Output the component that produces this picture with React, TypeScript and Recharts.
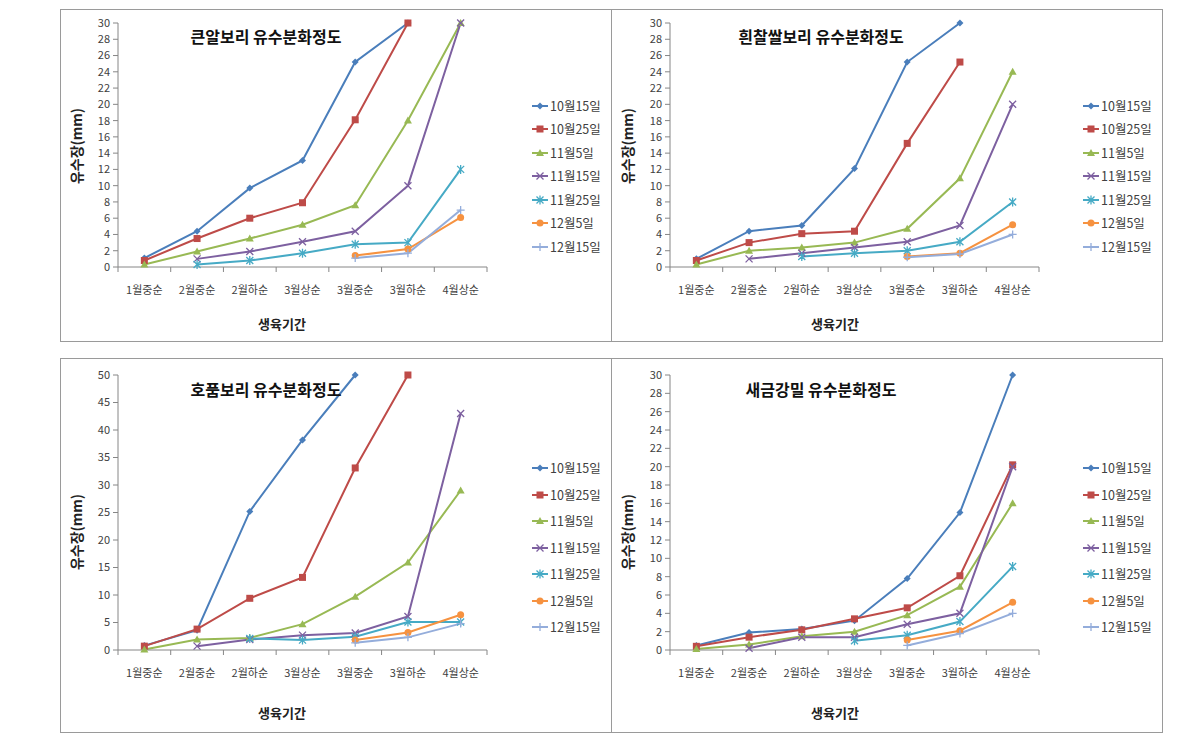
import React from "react";
import { LineChart, Line, XAxis, YAxis, Legend } from "recharts";

const CATS = ["1월중순", "2월중순", "2월하순", "3월상순", "3월중순", "3월하순", "4월상순"];
const SERIES = ["10월15일", "10월25일", "11월5일", "11월15일", "11월25일", "12월5일", "12월15일"];

type V = number | null;

// 큰알보리
const KEUNAL_1015: V[] = [1.1, 4.4, 9.7, 13.1, 25.2, 30, null];
const KEUNAL_1025: V[] = [0.8, 3.5, 6.0, 7.9, 18.1, 30, null];
const KEUNAL_1105: V[] = [0.3, 1.9, 3.5, 5.2, 7.6, 18, 30];
const KEUNAL_1115: V[] = [null, 1.0, 1.9, 3.1, 4.4, 10, 30];
const KEUNAL_1125: V[] = [null, 0.3, 0.8, 1.7, 2.8, 3.0, 12];
const KEUNAL_1205: V[] = [null, null, null, null, 1.4, 2.2, 6.1];
const KEUNAL_1215: V[] = [null, null, null, null, 1.1, 1.7, 7.0];

// 흰찰쌀보리
const HUIN_1015: V[] = [1.0, 4.4, 5.1, 12.1, 25.2, 30, null];
const HUIN_1025: V[] = [0.8, 3.0, 4.1, 4.4, 15.2, 25.2, null];
const HUIN_1105: V[] = [0.3, 2.0, 2.4, 3.0, 4.7, 10.9, 24];
const HUIN_1115: V[] = [null, 1.0, 1.7, 2.4, 3.1, 5.1, 20];
const HUIN_1125: V[] = [null, null, 1.3, 1.7, 2.0, 3.1, 8.0];
const HUIN_1205: V[] = [null, null, null, null, 1.3, 1.7, 5.2];
const HUIN_1215: V[] = [null, null, null, null, 1.2, 1.6, 4.0];

// 호품보리
const HOPUM_1015: V[] = [0.8, 3.6, 25.2, 38.2, 50, null, null];
const HOPUM_1025: V[] = [0.7, 3.8, 9.4, 13.2, 33.1, 50, null];
const HOPUM_1105: V[] = [0.1, 1.9, 2.2, 4.7, 9.7, 15.9, 29];
const HOPUM_1115: V[] = [null, 0.7, 1.9, 2.7, 3.1, 6.1, 43];
const HOPUM_1125: V[] = [null, null, 2.1, 1.8, 2.4, 5.1, 5.1];
const HOPUM_1205: V[] = [null, null, null, null, 1.8, 3.2, 6.4];
const HOPUM_1215: V[] = [null, null, null, null, 1.3, 2.3, 4.8];

// 새금강밀
const SAEGEUM_1015: V[] = [0.5, 1.9, 2.3, 3.2, 7.8, 15, 30];
const SAEGEUM_1025: V[] = [0.4, 1.4, 2.2, 3.4, 4.6, 8.1, 20.2];
const SAEGEUM_1105: V[] = [0.1, 0.6, 1.5, 2.0, 3.8, 6.9, 16];
const SAEGEUM_1115: V[] = [null, 0.2, 1.4, 1.4, 2.8, 4.0, 20];
const SAEGEUM_1125: V[] = [null, null, null, 1.0, 1.6, 3.1, 9.1];
const SAEGEUM_1205: V[] = [null, null, null, null, 1.1, 2.1, 5.2];
const SAEGEUM_1215: V[] = [null, null, null, null, 0.5, 1.8, 4.0];

const TICKS_30 = [0, 2, 4, 6, 8, 10, 12, 14, 16, 18, 20, 22, 24, 26, 28, 30];
const TICKS_50 = [0, 5, 10, 15, 20, 25, 30, 35, 40, 45, 50];

// Excel 2007 style palette + marker per series
const LOOK = [
  { color: "#4A7EBB", marker: "diamond" },
  { color: "#BE4B48", marker: "square" },
  { color: "#98B954", marker: "triangle" },
  { color: "#7D60A0", marker: "x" },
  { color: "#46AAC5", marker: "star" },
  { color: "#F69240", marker: "circle" },
  { color: "#94ADDB", marker: "plus" },
];

const AXIS = "#868686";
const TEXT = "#404040";
const PLOT_W = 369;
const STEP = PLOT_W / CATS.length;

function Marker({ shape, color, cx, cy }: { shape: string; color: string; cx: number; cy: number }) {
  switch (shape) {
    case "diamond":
      return <path d={`M${cx},${cy - 3.5}L${cx + 3.5},${cy}L${cx},${cy + 3.5}L${cx - 3.5},${cy}Z`} fill={color} />;
    case "square":
      return <rect x={cx - 3.5} y={cy - 3.5} width={7} height={7} fill={color} />;
    case "triangle":
      return <path d={`M${cx},${cy - 4}L${cx + 4},${cy + 3}L${cx - 4},${cy + 3}Z`} fill={color} />;
    case "x":
      return (
        <path d={`M${cx - 3.5},${cy - 3.5}L${cx + 3.5},${cy + 3.5}M${cx + 3.5},${cy - 3.5}L${cx - 3.5},${cy + 3.5}`} stroke={color} strokeWidth={1.3} />
      );
    case "star":
      return (
        <path
          d={`M${cx - 3.5},${cy - 3.5}L${cx + 3.5},${cy + 3.5}M${cx + 3.5},${cy - 3.5}L${cx - 3.5},${cy + 3.5}M${cx},${cy - 4.5}L${cx},${cy + 4.5}`}
          stroke={color}
          strokeWidth={1.3}
        />
      );
    case "circle":
      return <circle cx={cx} cy={cy} r={3.5} fill={color} />;
    default:
      return <path d={`M${cx - 4},${cy}L${cx + 4},${cy}M${cx},${cy - 4}L${cx},${cy + 4}`} stroke={color} strokeWidth={1.3} />;
  }
}

const makeDot = (shape: string, color: string) => (props: any) => {
  const { cx, cy, value, index } = props;
  if (value == null || cy == null || isNaN(cy)) return <g key={index} />;
  return (
    <g key={index}>
      <Marker shape={shape} color={color} cx={cx} cy={cy} />
    </g>
  );
};

function XTick({ x, y, payload }: any) {
  const i = payload.value as number;
  return (
    <g>
      <line x1={x - STEP / 2} x2={x - STEP / 2} y1={y} y2={y + 5} stroke={AXIS} />
      {i === CATS.length - 1 && <line x1={x + STEP / 2} x2={x + STEP / 2} y1={y} y2={y + 5} stroke={AXIS} />}
      <text x={x} y={y + 22} textAnchor="middle" dominantBaseline="central" fontSize={11} fill={TEXT}>
        {CATS[i]}
      </text>
    </g>
  );
}

function LegendBox({ payload, gap }: any) {
  const items = [...(payload || [])].sort((a: any, b: any) => SERIES.indexOf(a.value) - SERIES.indexOf(b.value));
  return (
    <div>
      {items.map((p: any) => {
        const k = SERIES.indexOf(p.value);
        const look = LOOK[k];
        return (
          <div key={p.value} style={{ height: gap, display: "flex", alignItems: "center" }}>
            <svg width={17} height={10} style={{ display: "block" }}>
              <line x1={0} x2={16} y1={5} y2={5} stroke={look.color} strokeWidth={2} />
              <Marker shape={look.marker} color={look.color} cx={8} cy={5} />
            </svg>
            <span style={{ fontSize: 12.5, color: TEXT, marginLeft: 1, lineHeight: 1 }}>{p.value}</span>
          </div>
        );
      })}
    </div>
  );
}

type PanelProps = {
  title: string;
  series: V[][];
  yMax: number;
  ticks: number[];
  left: number;
  top: number;
  width: number;
  height: number;
  plotLeft: number;
  plotTop: number;
  plotBottom: number;
  titleX: number;
  titleY: number;
  yLabelX: number;
  yLabelY: number;
  xLabelX: number;
  xLabelY: number;
  legendTop: number;
  legendGap: number;
};

function Panel(p: PanelProps) {
  const rows = CATS.map((c, i) => {
    const row: Record<string, any> = { idx: i, cat: c };
    SERIES.forEach((s, k) => (row[s] = p.series[k][i]));
    return row;
  });
  const yW = 30;
  const xH = 20;
  return (
    <div style={{ position: "absolute", left: p.left, top: p.top, width: p.width, height: p.height }}>
      <LineChart
        width={p.width}
        height={p.height}
        data={rows}
        margin={{
          top: p.plotTop,
          left: p.plotLeft - yW,
          right: p.width - p.plotLeft - PLOT_W,
          bottom: p.height - p.plotBottom - xH,
        }}
      >
        <XAxis
          dataKey="idx"
          type="number"
          domain={[-0.5, CATS.length - 0.5]}
          ticks={CATS.map((_, i) => i)}
          interval={0}
          height={xH}
          tickLine={false}
          tickSize={0}
          tickMargin={0}
          axisLine={{ stroke: AXIS }}
          tick={<XTick />}
        />
        <YAxis
          domain={[0, p.yMax]}
          ticks={p.ticks}
          interval={0}
          width={yW}
          tickSize={5}
          tickMargin={3}
          tickLine={{ stroke: AXIS }}
          axisLine={{ stroke: AXIS }}
          tick={{ fontSize: 11, fill: TEXT }}
        />
        <Legend
          layout="vertical"
          align="center"
          verticalAlign="middle"
          wrapperStyle={{ left: 472, top: p.legendTop, width: 110 }}
          content={(props: any) => <LegendBox payload={props.payload} gap={p.legendGap} />}
        />
        {SERIES.map((s, k) => (
          <Line
            key={s}
            dataKey={s}
            name={s}
            type="linear"
            stroke={LOOK[k].color}
            strokeWidth={2}
            dot={makeDot(LOOK[k].marker, LOOK[k].color)}
            activeDot={false}
            isAnimationActive={false}
          />
        ))}
      </LineChart>
      <div
        style={{
          position: "absolute",
          left: p.titleX,
          top: p.titleY,
          transform: "translate(-50%, -50%)",
          fontSize: 16,
          fontWeight: "bold",
          color: "#111",
          whiteSpace: "nowrap",
          lineHeight: 1,
        }}
      >
        {p.title}
      </div>
      <div
        style={{
          position: "absolute",
          left: p.yLabelX,
          top: p.yLabelY,
          transform: "translate(-50%, -50%) rotate(-90deg)",
          fontSize: 14,
          fontWeight: "bold",
          color: "#222",
          whiteSpace: "nowrap",
          lineHeight: 1,
        }}
      >
        유수장(mm)
      </div>
      <div
        style={{
          position: "absolute",
          left: p.xLabelX,
          top: p.xLabelY,
          transform: "translate(-50%, -50%)",
          fontSize: 13,
          fontWeight: "bold",
          color: "#222",
          whiteSpace: "nowrap",
          lineHeight: 1,
        }}
      >
        생육기간
      </div>
      <div style={{ position: "absolute", inset: 0, border: "1px solid #9a9a9a", pointerEvents: "none" }} />
    </div>
  );
}

export default function App() {
  const top = { top: 9, height: 333, plotTop: 14, plotBottom: 258, titleY: 27, yLabelY: 137, xLabelY: 314, legendTop: 85, legendGap: 23.5 };
  const bottom = { top: 358, height: 375, plotTop: 17, plotBottom: 292, titleY: 31, yLabelY: 174, xLabelY: 354, legendTop: 97, legendGap: 26.5 };
  const leftCol = { left: 60, width: 552, plotLeft: 58, titleX: 206, yLabelX: 16, xLabelX: 222 };
  const rightCol = { left: 611, width: 552, plotLeft: 59, titleX: 210, yLabelX: 16, xLabelX: 224 };
  return (
    <div
      style={{
        position: "absolute",
        left: 0,
        top: 0,
        width: 1204,
        height: 747,
        background: "#fff",
        fontFamily: "'Noto Sans CJK KR', 'Noto Sans', sans-serif",
      }}
    >
      <Panel
        title="큰알보리 유수분화정도"
        series={[KEUNAL_1015, KEUNAL_1025, KEUNAL_1105, KEUNAL_1115, KEUNAL_1125, KEUNAL_1205, KEUNAL_1215]}
        yMax={30}
        ticks={TICKS_30}
        {...top}
        {...leftCol}
      />
      <Panel
        title="흰찰쌀보리 유수분화정도"
        series={[HUIN_1015, HUIN_1025, HUIN_1105, HUIN_1115, HUIN_1125, HUIN_1205, HUIN_1215]}
        yMax={30}
        ticks={TICKS_30}
        {...top}
        {...rightCol}
      />
      <Panel
        title="호품보리 유수분화정도"
        series={[HOPUM_1015, HOPUM_1025, HOPUM_1105, HOPUM_1115, HOPUM_1125, HOPUM_1205, HOPUM_1215]}
        yMax={50}
        ticks={TICKS_50}
        {...bottom}
        {...leftCol}
      />
      <Panel
        title="새금강밀 유수분화정도"
        series={[SAEGEUM_1015, SAEGEUM_1025, SAEGEUM_1105, SAEGEUM_1115, SAEGEUM_1125, SAEGEUM_1205, SAEGEUM_1215]}
        yMax={30}
        ticks={TICKS_30}
        {...bottom}
        {...rightCol}
      />
    </div>
  );
}
